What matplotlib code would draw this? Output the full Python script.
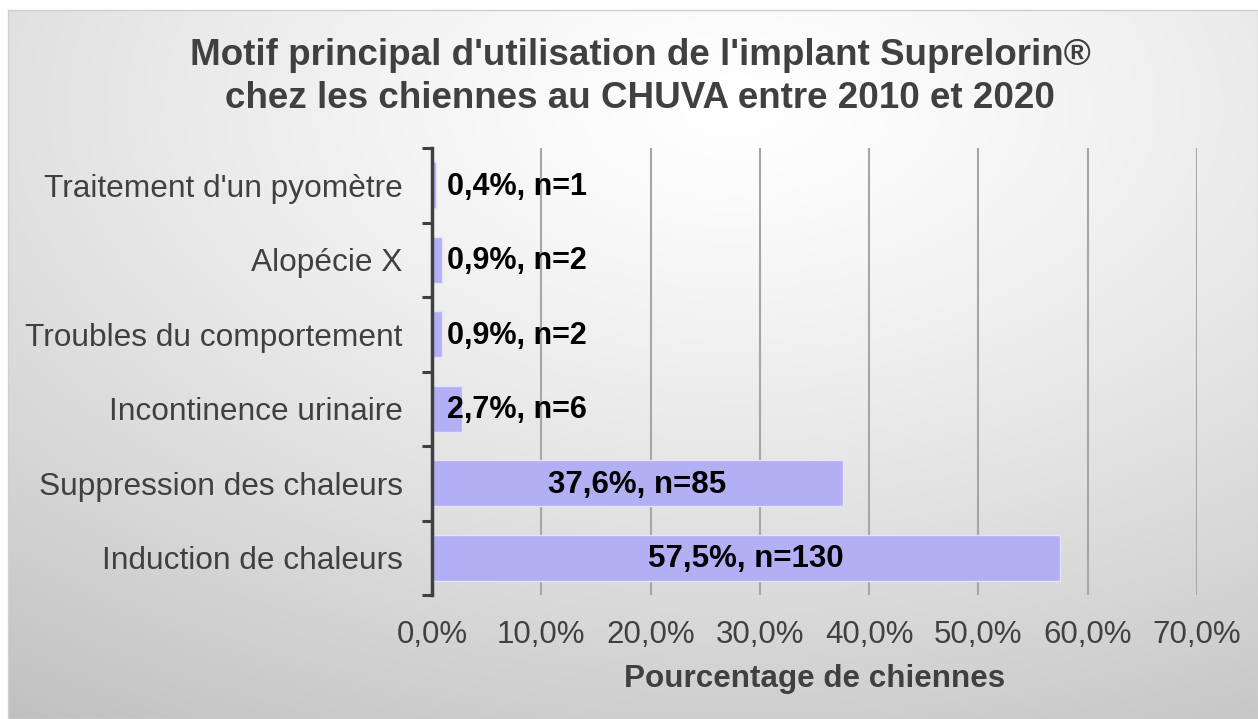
import numpy as np
import matplotlib as mpl
import matplotlib.pyplot as plt

# Données (lecture du graphique, de haut en bas)
categories = [
    "Traitement d'un pyomètre",
    "Alopécie X",
    "Troubles du comportement",
    "Incontinence urinaire",
    "Suppression des chaleurs",
    "Induction de chaleurs",
]
pourcentages = [0.4, 0.9, 0.9, 2.7, 37.6, 57.5]
effectifs = [1, 2, 2, 6, 85, 130]
xticks = [0, 10, 20, 30, 40, 50, 60, 70]

titre = "Motif principal d'utilisation de l'implant Suprelorin®\nchez les chiennes au CHUVA entre 2010 et 2020"
xlabel = "Pourcentage de chiennes"


def fmt_fr(v):
    return f"{v:.1f}".replace('.', ',')


def main():
    mpl.rcParams.update({
        'font.family': ['Liberation Sans', 'DejaVu Sans'],
        'text.color': '#404040',
    })

    W, H = 1258, 719
    fig = plt.figure(figsize=(W / 100, H / 100), dpi=100)
    fig.patch.set_facecolor('white')

    # fond en dégradé radial (comme la zone de graphique Excel)
    bg = fig.add_axes([8 / W, 0, 1 - 8 / W, 1 - 10 / H])
    gy, gx = np.mgrid[0:300, 0:500]
    d = np.sqrt(((gx - 290) / 500) ** 2 + ((gy - 40) / 310) ** 2)
    val = 1.0 - 0.24 * np.clip(d, 0, 1.3) ** 1.3
    bg.imshow(np.dstack([val, val, val]), aspect='auto', extent=[0, 1, 0, 1],
              origin='upper', interpolation='bilinear')
    bg.set_xticks([])
    bg.set_yticks([])
    for s in bg.spines.values():
        s.set_color('#d0d0d0')
        s.set_linewidth(1)
    bg.set_zorder(-10)

    left, right = 432 / W, 1197 / W
    top, bottom = 1 - 148 / H, 1 - 595 / H
    ax = fig.add_axes([left, bottom, right - left, top - bottom])
    ax.patch.set_alpha(0)

    y = np.arange(len(categories))
    ax.barh(y, pourcentages, height=0.62, color='#B3AFF5',
            edgecolor='#E4E2FC', linewidth=1, zorder=3)

    for yi, p, n in zip(y, pourcentages, effectifs):
        txt = f"{fmt_fr(p)}%, n={n}"
        if p < 5:
            ax.text(1.35, yi + 0.02, txt, ha='left', va='center', fontsize=22,
                    fontweight='bold', color='black', zorder=4)
        else:
            ax.text(p / 2, yi + 0.02, txt, ha='center', va='center', fontsize=22.5,
                    fontweight='bold', color='black', zorder=4)

    ax.set_xlim(0, 70)
    ax.set_ylim(len(categories) - 0.5, -0.5)
    ax.set_xticks(xticks)
    ax.set_xticklabels([f"{fmt_fr(v)}%" for v in xticks], fontsize=22.5, color='#404040')
    ax.set_yticks(y)
    ax.set_yticklabels(categories, fontsize=22.8, color='#404040')
    ax.set_yticks(np.arange(-0.5, len(categories)), minor=True)

    ax.tick_params(axis='x', length=0, pad=18)
    ax.tick_params(axis='y', which='major', length=0, pad=21)
    ax.tick_params(axis='y', which='minor', length=7, width=2.2, color='#404040', direction='out')

    ax.grid(axis='x', color='#A6A6A6', linewidth=1.5, zorder=0)
    for s in ['top', 'right', 'bottom']:
        ax.spines[s].set_visible(False)
    ax.spines['left'].set_color('#404040')
    ax.spines['left'].set_linewidth(2.5)
    ax.spines['left'].set_zorder(5)

    ax.set_xlabel(xlabel, fontsize=22.6, fontweight='bold', color='#404040', labelpad=10)

    fig.text(640 / W, 1 - 77 / H, titre, ha='center', va='center', fontsize=26.5,
             fontweight='bold', color='#404040', linespacing=1.28)

    fig.savefig('out.png', dpi=100, facecolor=fig.get_facecolor())


if __name__ == "__main__":
    main()
